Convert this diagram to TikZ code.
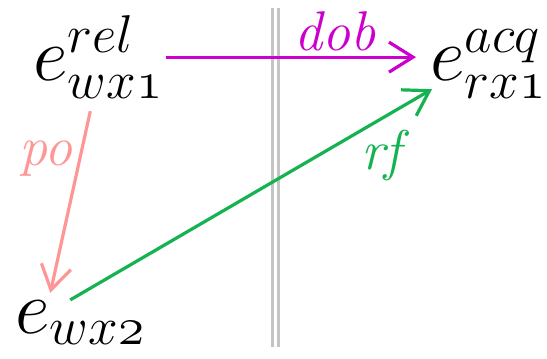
\RequirePackage{fix-cm}
\documentclass[tikz,border=0pt]{standalone}
\usepackage{xcolor}
\definecolor{evmagenta}{RGB}{204,0,204}
\definecolor{evpink}{RGB}{255,150,150}
\definecolor{evgreen}{RGB}{20,178,80}
\definecolor{evgray}{RGB}{196,196,196}
\usetikzlibrary{arrows.meta,positioning}
\begin{document}
\begin{tikzpicture}[x=0.5pt, y=-0.5pt, every node/.style={font=\fontsize{38}{40}\selectfont},
  ev/.style={inner sep=0pt, anchor=base west},
  rel/.style={line width=1.6pt, -{Straight Barb[length=12pt,width=15pt,line width=1.6pt]}},
  lbl/.style={inner sep=2pt, font=\fontsize{28}{30}\selectfont\itshape}]
\useasboundingbox (0,0) rectangle (547,359);
% Separator
\draw[evgray, line width=1.5pt] (272,8) -- (272,347);
\draw[evgray, line width=1.5pt] (278,8) -- (278,347);
% Events
\node[ev] (wx1) at (33,80) {$e^{rel}_{wx\mathnormal{1}}$};
\node[ev] (rx1) at (430,80) {$e^{acq}_{rx\mathnormal{1}}$};
\node[ev] (wx2) at (15,333) {$e_{wx\mathnormal{2}}$};
% Relations
\draw[rel, evmagenta, shorten <=1pt, shorten >=7pt] (wx1.east) -- node[lbl, above, pos=0.645] {dob} (wx1.east -| rx1.west);
\draw[rel, evpink] ([shift={(-8,12)}]wx1.south) -- node[lbl, left=1pt, pos=0.26] {po} ([shift={(-30,-7)}]wx2.north);
\draw[rel, evgreen] ([shift={(-10,0)}]wx2.north) -- node[lbl, below=3pt, pos=0.86] {rf} ([shift={(2,-10)}]rx1.south west);
\end{tikzpicture}
\end{document}
